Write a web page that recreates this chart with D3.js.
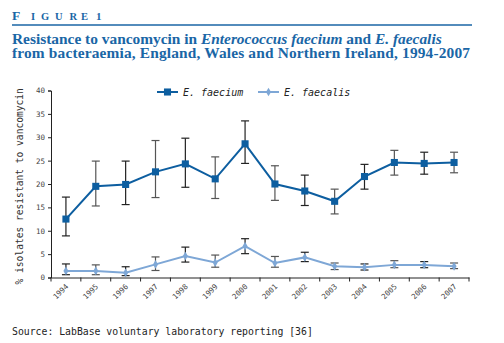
<!DOCTYPE html>
<html>
<head>
<meta charset="utf-8">
<script src="https://cdnjs.cloudflare.com/ajax/libs/d3/7.8.5/d3.min.js"></script>
<style>
  body { margin: 0; background: #fff; }
  svg { display: block; }
</style>
</head>
<body>
<div id="chart"></div>
<script>
// Data
var years = ['1994','1995','1996','1997','1998','1999','2000','2001','2002','2003','2004','2005','2006','2007'];
var faecium     = [12.5, 19.5, 19.9, 22.6, 24.3, 21.1, 28.6, 20.0, 18.5, 16.3, 21.6, 24.6, 24.4, 24.6];
var faeciumLow  = [ 8.9, 15.3, 15.6, 17.1, 19.3, 16.9, 24.4, 16.5, 15.4, 13.6, 18.9, 21.9, 22.1, 22.4];
var faeciumHigh = [17.2, 24.9, 24.9, 29.3, 29.8, 25.8, 33.5, 23.9, 21.9, 18.9, 24.2, 27.2, 26.8, 26.8];
var faecalis     = [1.4, 1.4, 1.0, 2.8, 4.6, 3.2, 6.7, 3.1, 4.3, 2.4, 2.2, 2.7, 2.7, 2.4];
var faecalisLow  = [0.6, 0.6, 0.4, 1.5, 3.3, 2.2, 5.1, 2.2, 3.4, 1.7, 1.6, 2.1, 2.1, 1.9];
var faecalisHigh = [2.9, 2.7, 2.3, 4.4, 6.5, 4.8, 8.3, 4.5, 5.4, 3.1, 2.9, 3.6, 3.4, 3.1];
var yTicks = [0, 5, 10, 15, 20, 25, 30, 35, 40];

const blue = '#1a66a6';
const darkBlue = '#0d5ea0';
const lightBlue = '#7ea7d6';
const serif = '"Liberation Serif", serif';
const mono = '"DejaVu Sans Mono", monospace';

var svg = d3.select('#chart').append('svg')
    .attr('width', 504)
    .attr('height', 343);

// Header "FIGURE 1" in spaced small caps
var figLetters = [
    {c: 'F', x: 12, size: 13.5},
    {c: 'I', x: 31, size: 10.5},
    {c: 'G', x: 41, size: 10.5},
    {c: 'U', x: 55, size: 10.5},
    {c: 'R', x: 69.5, size: 10.5},
    {c: 'E', x: 81, size: 10.5},
    {c: '1', x: 96, size: 11}
];
svg.append('g').selectAll('text')
    .data(figLetters)
    .enter().append('text')
    .attr('x', (d) => d.x).attr('y', 20)
    .attr('fill', blue)
    .attr('font-family', serif)
    .attr('font-weight', 'bold')
    .attr('font-size', (d) => d.size)
    .text((d) => d.c);

svg.append('line')
    .attr('x1', 12).attr('x2', 472)
    .attr('y1', 25).attr('y2', 25)
    .attr('stroke', blue).attr('stroke-width', 1.5);

// Title line 1: mixed roman / italic pieces placed one after another
var titleParts = [
    {t: 'Resistance to vancomycin in ', it: false},
    {t: 'Enterococcus faecium', it: true},
    {t: ' and ', it: false},
    {t: 'E. faecalis', it: true}
];
var tx = 12;
titleParts.forEach(function(p) {
    var el = svg.append('text')
        .attr('x', tx).attr('y', 44)
        .attr('fill', blue)
        .attr('font-family', serif)
        .attr('font-weight', 'bold')
        .attr('font-style', p.it ? 'italic' : 'normal')
        .attr('font-size', 15.4)
        .style('white-space', 'pre')
        .text(p.t);
    tx += el.node().getComputedTextLength();
});

svg.append('text')
    .attr('x', 12).attr('y', 58)
    .attr('fill', blue)
    .attr('font-family', serif)
    .attr('font-weight', 'bold')
    .attr('font-size', 15.4)
    .attr('textLength', 458)
    .text('from bacteraemia, England, Wales and Northern Ireland, 1994-2007');

// Scales
var x = d3.scaleBand().domain(years).range([51, 469]);
var y = d3.scaleLinear().domain([0, 40]).range([277.5, 90.5]);
var cx = (d) => x(d) + x.bandwidth() / 2;

// Axes
var yAxis = svg.append('g')
    .attr('transform', 'translate(51,0)')
    .call(d3.axisLeft(y).tickValues(yTicks).tickSize(3).tickPadding(3));
var xAxis = svg.append('g')
    .attr('transform', 'translate(0,277.5)')
    .call(d3.axisBottom(x).tickSize(0).tickFormat(''));
// x tick marks sit on the band edges
xAxis.selectAll('.edge')
    .data(years.concat(['end']))
    .enter().append('line')
    .attr('x1', (d, i) => 51 + i * x.step())
    .attr('x2', (d, i) => 51 + i * x.step())
    .attr('y1', 0).attr('y2', 4)
    .attr('stroke', '#222');

[yAxis, xAxis].forEach(function(g) {
    g.select('.domain').attr('stroke', '#222');
    g.selectAll('.tick line').attr('stroke', '#222');
    g.selectAll('text')
        .attr('font-family', mono)
        .attr('font-size', 7.5)
        .attr('fill', '#444');
});

svg.append('g').selectAll('text')
    .data(years)
    .enter().append('text')
    .attr('transform', (d) => 'translate(' + (cx(d) + 3) + ',287) rotate(-45)')
    .attr('text-anchor', 'end')
    .attr('font-family', mono)
    .attr('font-size', 7.5)
    .attr('fill', '#444')
    .text((d) => d);

svg.append('text')
    .attr('transform', 'translate(23,' + y(19.5) + ') rotate(-90)')
    .attr('text-anchor', 'middle')
    .attr('font-family', mono)
    .attr('font-size', 9.6)
    .attr('fill', '#333')
    .text('% isolates resistant to vancomycin');

// Series
function drawSeries(vals, lows, highs, color, marker) {
    var g = svg.append('g');
    var err = g.selectAll('.err')
        .data(years)
        .enter().append('g');
    err.append('line')
        .attr('x1', cx).attr('x2', cx)
        .attr('y1', (d, i) => y(lows[i]))
        .attr('y2', (d, i) => y(highs[i]))
        .attr('stroke', (d, i) => i % 2 ? '#555' : '#222')
        .attr('stroke-width', 1.2);
    [lows, highs].forEach(function(arr) {
        err.append('line')
            .attr('x1', (d) => cx(d) - 4).attr('x2', (d) => cx(d) + 4)
            .attr('y1', (d, i) => y(arr[i]))
            .attr('y2', (d, i) => y(arr[i]))
            .attr('stroke', (d, i) => i % 2 ? '#555' : '#222')
            .attr('stroke-width', 1.2);
    });
    g.append('path')
        .datum(vals)
        .attr('fill', 'none')
        .attr('stroke', color)
        .attr('stroke-width', 2)
        .attr('d', d3.line().x((d, i) => cx(years[i])).y((d) => y(d)));
    g.selectAll('.pt')
        .data(vals)
        .enter().append('path')
        .attr('transform', (d, i) => 'translate(' + cx(years[i]) + ',' + y(d) + ')')
        .attr('d', marker)
        .attr('fill', color);
}

var square = d3.symbol().type(d3.symbolSquare).size(50)();
var diamond = d3.symbol().type(d3.symbolDiamond).size(22)();

drawSeries(faecalis, faecalisLow, faecalisHigh, lightBlue, diamond);
drawSeries(faecium, faeciumLow, faeciumHigh, darkBlue, square);

// Legend
var legend = [
    {name: 'E. faecium', color: darkBlue, marker: square, x: 157},
    {name: 'E. faecalis', color: lightBlue, marker: diamond, x: 258}
];
var lg = svg.append('g').selectAll('g')
    .data(legend)
    .enter().append('g')
    .attr('transform', (d) => 'translate(' + d.x + ',92)');
lg.append('line')
    .attr('x1', 0).attr('x2', 21)
    .attr('stroke', (d) => d.color)
    .attr('stroke-width', 2);
lg.append('path')
    .attr('transform', 'translate(10.5,0)')
    .attr('d', (d) => d.marker)
    .attr('fill', (d) => d.color);
lg.append('text')
    .attr('x', 26).attr('y', 3.5)
    .attr('font-family', mono)
    .attr('font-style', 'italic')
    .attr('font-size', 10)
    .attr('fill', '#222')
    .text((d) => d.name);

// Source
svg.append('text')
    .attr('x', 12).attr('y', 335)
    .attr('font-family', mono)
    .attr('font-size', 9.8)
    .attr('fill', '#222')
    .text('Source: LabBase voluntary laboratory reporting [36]');
</script>
</body>
</html>
